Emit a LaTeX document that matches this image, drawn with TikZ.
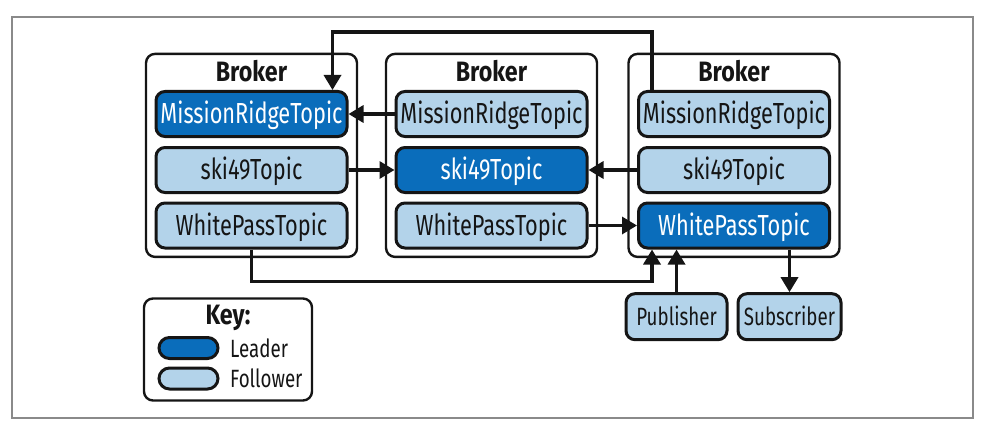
\documentclass[tikz,border=0pt]{standalone}
\usepackage{fontspec}
\setmainfont{Fira Sans}[FakeStretch=0.75]
\newfontfamily\labelfont{Fira Sans}[FakeStretch=0.83]
\usetikzlibrary{arrows.meta}
\definecolor{leader}{HTML}{0A6DBB}
\definecolor{follower}{HTML}{B3D3EA}
\definecolor{framegray}{HTML}{8A8A8A}
\definecolor{ink}{HTML}{151515}
\begin{document}
\begin{tikzpicture}[x=1pt,y=-1pt,
  brokerbox/.style={draw=ink, line width=2.4pt, rounded corners=9pt, minimum width=211pt, minimum height=203pt, inner sep=0pt},
  brokerlabel/.style={font=\labelfont\bfseries\fontsize{28}{30}\selectfont, inner sep=0pt, text=ink},
  topic/.style={draw=ink, line width=3pt, rounded corners=9pt, minimum width=191pt, minimum height=45pt, inner sep=0pt, text height=19pt, text depth=0pt, font=\fontsize{29}{32}\selectfont},
  lead/.style={topic, fill=leader, text=white},
  foll/.style={topic, fill=follower, text=ink},
  client/.style={draw=ink, line width=3pt, rounded corners=9pt, fill=follower, text=ink, minimum height=46pt, inner sep=0pt, text height=17pt, text depth=0pt, font=\fontsize{25}{28}\selectfont},
  swatch/.style={draw=ink, line width=3pt, rounded corners=10.5pt, minimum width=59pt, minimum height=21pt, inner sep=0pt},
  keytext/.style={font=\fontsize{25}{28}\selectfont, anchor=west, inner sep=0pt, text height=17pt, text depth=0pt, text=ink},
  conn/.style={draw=ink, line width=3.4pt, -{Triangle[width=17pt,length=15pt]}}
]
\useasboundingbox (0,0) rectangle (984,433);
\draw[framegray, line width=1.5pt] (12,17) rectangle (973,418);

% brokers
\node[brokerbox] (bl) at (251.5,155.4) {};
\node[brokerbox] (bm) at (491.5,155.4) {};
\node[brokerbox] (br) at (734,155.4) {};
\node[brokerlabel] (bll) at (251.5,71.5) {Broker};
\node[brokerlabel] (bml) at (491.5,71.5) {Broker};
\node[brokerlabel] (brl) at (734,71.5) {Broker};

% topics
\node[lead] (l1) at (251.5,114) {MissionRidgeTopic};
\node[foll] (l2) at (251.5,170) {ski49Topic};
\node[foll] (l3) at (251.5,225.5) {WhitePassTopic};
\node[foll] (m1) at (491.5,114) {MissionRidgeTopic};
\node[lead] (m2) at (491.5,170) {ski49Topic};
\node[foll] (m3) at (491.5,225.5) {WhitePassTopic};
\node[foll] (r1) at (734,114) {MissionRidgeTopic};
\node[foll] (r2) at (734,170) {ski49Topic};
\node[lead] (r3) at (734,225.5) {WhitePassTopic};

% clients
\node[client, minimum width=101pt] (pub) at (676.5,316.7) {Publisher};
\node[client, minimum width=103pt] (sub) at (789.5,316.7) {Subscriber};

% key
\node[brokerbox, minimum width=168pt, minimum height=102pt] (key) at (228,349.5) {};
\node[brokerlabel] (keyl) at (228,318) {Key:};
\node[swatch, fill=leader] (sl) at (188.5,348) {};
\node[swatch, fill=follower] (sf) at (188.5,378.5) {};
\node[keytext] (tl) at (230,349) {Leader};
\node[keytext] (tf) at (230,378.5) {Follower};

% connectors
\draw[conn] ([xshift=15pt]r1.north west) -- ++(0,-58) -| ([xshift=-16pt]l1.north east);
\draw[conn] (m1.west) -- (l1.east);
\draw[conn] (l2.east) -- (m2.west);
\draw[conn] (r2.west) -- (m2.east);
\draw[conn] (m3.east) -- (r3.west);
\draw[conn] (l3.south) -- ++(0,32) -| ([xshift=15pt]r3.south west);
\draw[conn] (pub.north) -- (pub.north |- r3.south);
\draw[conn] (sub.north |- r3.south) -- (sub.north);
\end{tikzpicture}
\end{document}
